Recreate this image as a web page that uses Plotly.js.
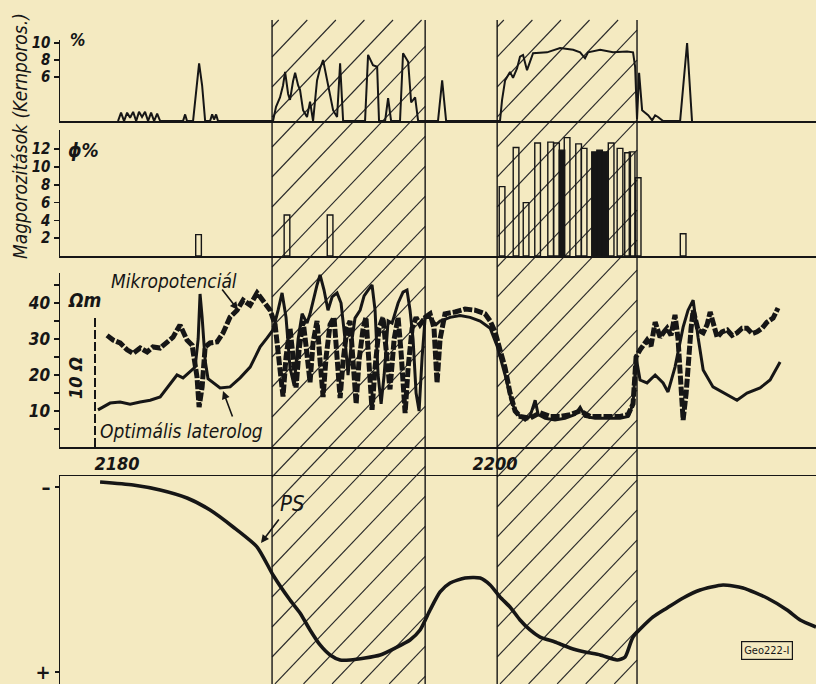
<!DOCTYPE html>
<html><head><meta charset="utf-8">
<script src="https://cdn.plot.ly/plotly-3.0.1.min.js"></script>
<style>html,body{margin:0;padding:0;background:#f4eac1;} #chart{width:816px;height:684px;}</style>
</head><body><div id="chart"></div>
<script>
// ---------- DATA ----------
// Panel 1: core porosity (Kernporosität), %
const kernDepth = [2180.05,2180.21,2180.37,2180.53,2180.69,2180.85,2181.01,2181.16,2181.32,2181.48,2181.64,2181.80,2181.96,2182.12,2182.28,
  2183.49,2183.60,2183.70,
  2184.02,2184.18,2184.34,2184.50,2184.66,
  2184.92,2185.03,2185.13,2185.24,2185.34,
  2188.25,2188.41,2188.62,2188.78,2188.89,2189.05,2189.15,2189.31,2189.42,2189.58,2189.68,2189.84,2190.05,2190.21,2190.37,
  2190.58,2190.74,2190.90,2191.01,2191.16,2191.43,2191.64,2191.80,2191.96,
  2193.12,2193.28,2193.54,2193.76,2193.86,
  2194.18,2194.34,2194.50,
  2194.97,2195.13,2195.40,2195.56,2195.77,2195.93,
  2196.98,2197.20,2197.41,
  2200.26,2200.37,2200.53,2200.79,2200.95,2201.16,2201.32,2201.48,2201.69,2201.85,2202.01,
  2202.75,2203.44,2204.13,2204.50,2204.76,2204.92,2205.56,2206.24,2206.98,2207.30,
  2207.41,2207.46,2207.51,2207.62,2207.78,2207.94,2208.10,2208.31,2208.47,2208.62,2208.89,
  2209.79,2210.16,2210.42];
const kernPoro = [0.82,1.8,0.82,1.8,1.2,1.9,0.82,1.9,1.3,1.9,0.82,1.8,0.82,1.7,0.82,
  0.82,1.6,0.82,
  0.82,4.5,7.6,5.0,0.82,
  0.82,1.6,1.0,1.6,0.82,
  0.82,2.5,3.6,5.0,6.6,4.0,3.3,5.5,6.5,5.0,4.5,2.1,1.3,3.1,0.82,
  5.6,7.0,8.0,6.8,4.8,2.1,1.3,7.6,0.82,
  0.82,8.6,7.4,7.2,0.82,
  0.82,3.5,0.82,
  0.82,8.8,7.8,3.0,3.6,0.82,
  0.82,5.6,0.82,
  0.82,3.3,5.6,6.6,5.9,7.0,8.4,8.6,6.8,7.8,8.8,
  8.9,9.4,9.2,8.9,8.2,8.9,9.2,8.9,9.0,8.9,
  7.2,3.3,1.0,6.5,2.1,1.8,1.5,0.9,1.5,1.3,0.82,
  0.82,10.0,0.82];

// Panel 2: core porosity samples, phi %
const phiDepth = [2184.31,2188.99,2191.27,2200.37,2201.11,2201.64,2202.25,2202.94,2203.25,2203.81,2204.42,2204.71,2206.14,2206.61,2207.01,2207.25,2207.57,2209.95];
const phiValue = [2.4,4.6,4.6,7.8,12.2,6.0,12.7,12.8,12.7,13.3,12.6,12.1,12.7,12.1,11.6,11.7,8.8,2.5];
const denseDepth = [2203.54,2205.26,2205.53,2205.82];
const denseValue = [11.9,11.7,11.9,11.7];

// Panel 3: resistivity, ohm-m
const mikroDepth = [2179.47,2179.79,2180.16,2180.53,2180.85,2181.22,2181.59,2181.90,2182.28,2182.65,2182.96,2183.33,2183.70,2183.97,2184.23,2184.34,2184.50,2184.66,2184.92,2185.29,2185.61,2185.98,2186.35,2186.67,2187.04,2187.41,2187.72,
  2188.10,2188.36,2188.62,2188.78,2188.94,2189.15,2189.31,2189.47,2189.63,2189.84,2190.00,2190.21,2190.37,2190.58,2190.74,2190.90,2191.06,2191.27,2191.48,2191.64,2191.80,2191.96,2192.17,2192.33,2192.49,2192.65,2192.80,2193.02,2193.17,2193.33,2193.49,2193.65,2193.86,2194.07,2194.23,2194.44,2194.66,2194.87,2195.03,2195.24,2195.40,2195.61,2195.82,2196.03,2196.30,
  2196.56,2196.77,2196.93,2197.09,2197.35,2197.88,2198.41,2198.94,2199.47,2199.74,2200.00,2200.26,2200.53,2200.79,2201.06,2201.32,2201.85,2202.38,2202.91,2203.44,2203.97,2204.50,2205.03,2205.56,2206.08,2206.61,2207.04,2207.30,2207.46,2207.67,
  2208.04,2208.25,2208.47,2208.73,2208.94,2209.10,2209.31,2209.52,2209.68,2209.84,2209.95,2210.11,2210.21,2210.37,2210.48,2210.63,2210.74,2211.01,2211.22,2211.38,2211.59,2211.75,2212.01,2212.28,2212.54,2212.80,2213.07,2213.33,2213.60,2213.86,2214.13,2214.39,2214.71,2214.97];
const mikroOhm = [31,29.7,28.9,27,26,27.5,26.4,27.8,27.5,29.2,30.5,33.9,29.7,28.3,19.4,11.1,16.7,27.8,28.9,29.2,31.7,36.1,38,40.8,39.4,42.8,40.8,
  38,34,22,14,25,33,25,16.5,27,35,28,18,29,35,24,13.9,25,34,36,25,13.6,24,33,35,22,12,24,33,36,24,10.3,22,33,36,28,16,30,36,26,9.4,22,33,36,34,36,
  37,33,17.8,30,37,37.5,38.3,38,37,35,32,27,22,15,10,8.5,8,9.5,8.5,8.5,9,10,8.5,8.5,8.5,8.5,9,12,25,27,
  29.7,28,34.7,30.5,32,33,31,36.7,30,15,7.5,15,24,33,38,35,32.5,31.7,34,37.5,33,30.5,32,32.5,31,31.7,33,33,31.5,32,33,34.7,35.8,38.6];

const lateroDepth = [2178.99,2179.63,2180.16,2180.69,2181.22,2181.75,2182.28,2182.65,2183.17,2183.49,2183.86,2184.13,2184.29,2184.39,2184.50,2184.66,2184.81,2185.08,2185.45,2185.98,2186.51,2187.04,2187.57,2187.94,2188.25,
  2188.52,2188.73,2188.94,2189.15,2189.37,2189.58,2189.79,2190.05,2190.21,2190.37,2190.58,2190.74,2190.95,2191.16,2191.38,2191.64,2191.85,2192.06,2192.22,2192.38,2192.59,2192.86,2193.07,2193.28,2193.49,2193.65,2193.81,2193.97,2194.13,2194.34,2194.55,2194.87,2195.13,2195.34,2195.50,2195.66,2195.82,2195.98,2196.14,2196.30,
  2196.56,2196.88,2197.09,2197.62,2198.15,2198.68,2199.21,2199.74,2200.11,2200.53,2200.90,2201.22,2201.59,2201.85,2202.12,2202.28,2202.65,2203.17,2203.70,2204.23,2204.50,2204.76,2205.29,2206.08,2206.61,2207.04,2207.30,2207.46,2207.67,2208.04,2208.47,2208.89,2209.15,2209.52,2209.95,2210.21,2210.48,2210.74,2211.01,2211.53,2212.28,2212.80,2213.33,2214.02,2214.55,2215.08];
const lateroOhm = [10.3,12.2,12.5,11.9,12.5,13.0,13.9,16.4,20.0,19.2,20.8,22.2,30,42.5,36,24,19,17.8,16.4,16.7,19.2,22.2,27.8,30.3,32.5,
  38,42.8,36,22,17,30,37,34.4,37,40.8,45,47.8,43.6,38,41.7,42.8,40,30,20,28,35.8,38,42,43.6,45,38,20,12,20,35,34.4,40,43,43.6,38,30,15,10,25,36,
  36,34,35,36,36.5,36,35,33,28,20,12,9,7.5,8.5,13,9,8,7.5,8,9,11,8.5,8,8,8,8.5,12,25,18.6,17.8,20,17.8,15.3,22.2,33.3,38,40.8,30.5,21.4,16.7,14.4,13,15,16.4,18.6,23.6];

// Panel 4: spontaneous potential (relative, - up / + down)
const psDepth = [2179.10,2180.85,2182.28,2183.70,2184.92,2186.14,2187.41,2188.25,2189.15,2189.68,2190.21,2190.74,2191.27,2191.80,2192.33,2193.12,2193.92,2194.71,2195.50,2196.03,2196.56,2197.09,2197.62,2198.41,2199.21,2199.74,2200.26,2200.79,2201.32,2201.85,2202.38,2203.17,2203.97,2204.76,2205.56,2206.46,2206.88,2207.30,2208.36,2209.10,2209.95,2210.85,2212.06,2213.12,2214.39,2215.45,2216.14,2216.98];
const psValue = [-1.054,-1.022,-0.968,-0.881,-0.751,-0.568,-0.351,-0.049,0.222,0.362,0.546,0.708,0.816,0.870,0.870,0.849,0.816,0.741,0.654,0.546,0.330,0.135,0.038,-0.016,-0.016,0.059,0.189,0.297,0.438,0.546,0.622,0.676,0.741,0.784,0.816,0.870,0.838,0.622,0.405,0.308,0.200,0.114,0.059,0.092,0.200,0.330,0.438,0.514];

// Hatched (reservoir) intervals, depth m
const zoneTop = [2188.20, 2200.11];
const zoneBottom = [2196.30, 2207.51];
const depthTicks = [2180, 2200];

// ---------- STYLE / LAYOUT ----------
const BG = '#f4eac1', INK = '#161616';
const FONT = 'Liberation Sans Narrow, DejaVu Sans Condensed, sans-serif';
const X_RANGE = [2176.98, 2216.98];
const W = 816, H = 684, ML = 60, PW = W - ML;
const px2x = px => (px - ML) / PW;
const px2y = py => 1 - py / H;
const d2px = d => ML + (d - X_RANGE[0]) / (X_RANGE[1] - X_RANGE[0]) * PW;

const tickFont = {family: FONT, size: 17, color: INK, style: 'italic', weight: 'bold'};
const baseY = {showgrid:false, zeroline:false, showline:true, linecolor:INK, linewidth:1.5,
  ticks:'outside', ticklen:5, tickwidth:1.5, tickcolor:INK, tickfont:tickFont, fixedrange:true};
const baseX = {range:X_RANGE, showgrid:false, zeroline:false, showline:true, linecolor:INK, linewidth:1.5,
  ticks:'', showticklabels:false, fixedrange:true};

const traces = [
  {x:kernDepth, y:kernPoro, xaxis:'x', yaxis:'y', type:'scatter', mode:'lines',
   line:{color:INK, width:2}, name:'Kernporosität'},
  {x:phiDepth, y:phiValue, xaxis:'x2', yaxis:'y2', type:'bar', width:0.3,
   marker:{color:'rgba(0,0,0,0)', line:{color:INK, width:1.4}}, name:'Φ'},
  {x:denseDepth, y:denseValue, xaxis:'x2', yaxis:'y2', type:'bar', width:0.3,
   marker:{color:INK, line:{color:INK, width:1.2}}, name:'Φ dense'},
  {x:mikroDepth, y:mikroOhm, xaxis:'x3', yaxis:'y3', type:'scatter', mode:'lines',
   line:{color:INK, width:5, dash:'9px,2px'}, name:'Mikropotenciál'},
  {x:lateroDepth, y:lateroOhm, xaxis:'x3', yaxis:'y3', type:'scatter', mode:'lines',
   line:{color:INK, width:3}, name:'Optimális laterolog'},
  {x:psDepth, y:psValue, xaxis:'x4', yaxis:'y4', type:'scatter', mode:'lines',
   line:{color:INK, width:3.6, shape:'spline', smoothing:0.6}, name:'PS'}
];

// shapes: zone boundaries + hatching
const shapes = [];
const HATCH_TOP = 20, SLOPE = 1.05, GAP = 30;
for (let i = 0; i < zoneTop.length; i++) {
  const x0 = d2px(zoneTop[i]), x1 = d2px(zoneBottom[i]);
  [zoneTop[i], zoneBottom[i]].forEach(d => shapes.push({type:'line', xref:'x', yref:'paper',
    x0:d, x1:d, y0:0, y1:px2y(HATCH_TOP), line:{color:INK, width:1.4}}));
  for (let c = HATCH_TOP + 7; c < H + SLOPE * (x1 - x0); c += GAP) {
    let xa = x0, ya = c;
    if (ya > H) { xa = x0 + (c - H) / SLOPE; ya = H; }
    let xb = x1, yb = c - SLOPE * (x1 - x0);
    if (yb < HATCH_TOP) { xb = x0 + (c - HATCH_TOP) / SLOPE; yb = HATCH_TOP; }
    if (xa < xb) shapes.push({type:'line', xref:'paper', yref:'paper', layer:'below',
      x0:px2x(xa), y0:px2y(ya), x1:px2x(xb), y1:px2y(yb), line:{color:'#2a2a2a', width:1.1}});
  }
}
// 10 ohm scale bar
shapes.push({type:'line', xref:'paper', yref:'paper', x0:px2x(95), x1:px2x(95), y0:px2y(447), y1:px2y(317),
  line:{color:INK, width:2, dash:'9px,3px'}});

const txt = (s, px, py, size, extra) => Object.assign({text:s, xref:'paper', yref:'paper',
  x:px2x(px), y:px2y(py), xanchor:'center', yanchor:'middle', showarrow:false,
  font:{family:FONT, size:size, color:INK, style:'italic'}}, extra || {});
const arrow = (hx, hy, tx, ty) => ({text:'', xref:'paper', yref:'paper', x:px2x(hx), y:px2y(hy),
  ax:tx - hx, ay:ty - hy, showarrow:true, arrowhead:2, arrowsize:1, arrowwidth:1.6, arrowcolor:INK});

const annotations = [
  txt('Magporozitások (Kernporos.)', 20, 136, 19, {textangle:-90}),
  txt('%', 77, 40, 17, {font:{family:FONT, size:17, color:INK, style:'italic', weight:'bold'}}),
  txt('ϕ%', 83, 150, 19, {font:{family:FONT, size:19, color:INK, style:'italic', weight:'bold'}}),
  txt('Ωm', 84, 300, 19, {font:{family:FONT, size:19, color:INK, style:'italic', weight:'bold'}}),
  txt('10 Ω', 75, 378, 18, {textangle:-90, font:{family:FONT, size:18, color:INK, style:'italic', weight:'bold'}}),
  txt('Mikropotenciál', 174, 281, 19),
  txt('Optimális laterolog', 181, 431, 19),
  txt('PS', 292, 503, 22),
  txt('Geo222-I', 767, 650, 11, {bordercolor:INK, borderwidth:1.2, borderpad:2, bgcolor:BG,
     font:{family:FONT, size:11, color:INK}}),
  arrow(238, 310, 221, 288),
  arrow(223, 391, 233, 418),
  arrow(261, 543, 280, 518)
];

const layout = {
  width:W, height:H, margin:{l:ML, r:0, t:0, b:0},
  paper_bgcolor:BG, plot_bgcolor:'rgba(0,0,0,0)', showlegend:false,
  xaxis: Object.assign({}, baseX, {anchor:'y'}),
  xaxis2: Object.assign({}, baseX, {anchor:'y2', matches:'x'}),
  xaxis3: Object.assign({}, baseX, {anchor:'y3', matches:'x', showticklabels:true,
     tickvals:depthTicks, ticktext:depthTicks.map(String), tickfont:{family:FONT, size:18, color:INK, style:'italic', weight:'bold'}}),
  xaxis4: Object.assign({}, baseX, {anchor:'y4', matches:'x', side:'top'}),
  yaxis: Object.assign({}, baseY, {domain:[px2y(121), px2y(40)], range:[0.8235, 10.353], tickvals:[6,8,10], tickfont:Object.assign({}, tickFont, {size:15})}),
  yaxis2: Object.assign({}, baseY, {domain:[px2y(256), px2y(130)], range:[0, 14.16], tickvals:[2,4,6,8,10,12], tickfont:Object.assign({}, tickFont, {size:15})}),
  yaxis3: Object.assign({}, baseY, {domain:[px2y(447), px2y(273)], range:[0, 48.33], tickvals:[10,20,30,40],
     minor:{tickvals:[5,15,25,35,45], ticks:'outside', ticklen:5, tickwidth:1.5, tickcolor:INK}}),
  yaxis4: Object.assign({}, baseY, {domain:[0, px2y(476)], range:[1.130, -1.119], tickvals:[-1, 1], ticktext:['–','+'],
     ticklen:4, tickfont:{family:FONT, size:20, color:INK, weight:'bold'}}),
  shapes: shapes, annotations: annotations, bargap:0
};

Plotly.newPlot('chart', traces, layout, {displayModeBar:false, staticPlot:true});
</script></body></html>
